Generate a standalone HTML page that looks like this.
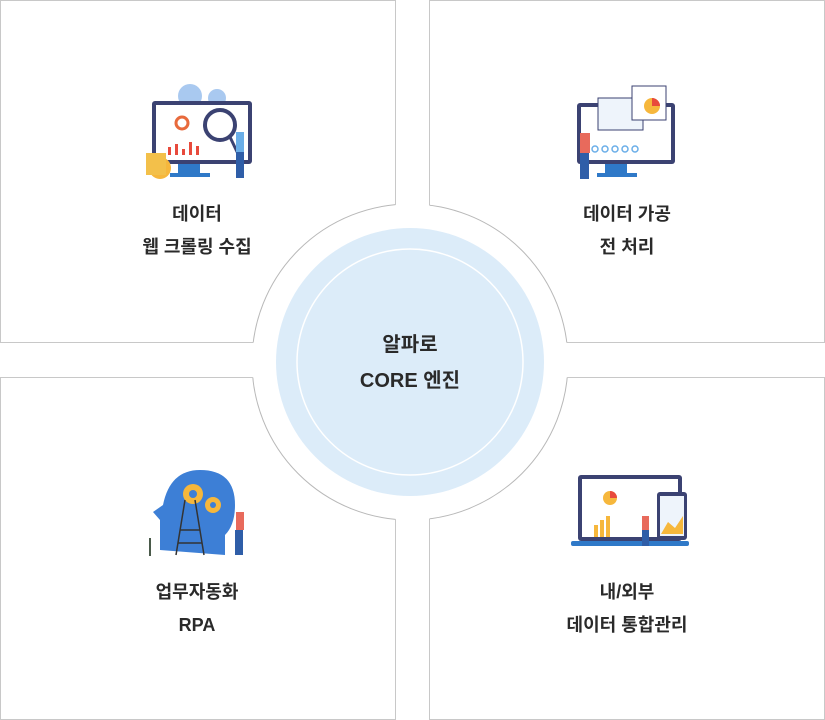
<!DOCTYPE html>
<html><head><meta charset="utf-8"><style>
body{margin:0;background:#fff;width:825px;height:720px;overflow:hidden;position:relative;font-family:"Liberation Sans","Noto Sans CJK KR",sans-serif}
.t{position:absolute;text-align:center;font-weight:bold;color:#2a2a2a;font-size:18px;line-height:33px;width:300px}
</style></head><body>
<svg width="825" height="720" style="position:absolute;left:0;top:0">
<defs><clipPath id="bx">
<rect x="0" y="0" width="395.5" height="342.5"/><rect x="429.5" y="0" width="396" height="342.5"/>
<rect x="0" y="377.5" width="395.5" height="343"/><rect x="429.5" y="377.5" width="396" height="343"/>
</clipPath></defs>
<g fill="#fff" stroke="#c8c8c8" stroke-width="1">
<rect x="0.5" y="0.5" width="395" height="342"/><rect x="429.5" y="0.5" width="395" height="342"/>
<rect x="0.5" y="377.5" width="395" height="342"/><rect x="429.5" y="377.5" width="395" height="342"/>
</g>
<circle cx="410" cy="362" r="158" fill="#fff"/>
<circle cx="410" cy="362" r="158" fill="none" stroke="#b8b8b8" clip-path="url(#bx)"/>
<circle cx="410" cy="362" r="134" fill="#dcecf9"/>
<circle cx="410" cy="362" r="113" fill="none" stroke="#fff" stroke-width="1.5"/>
<g>
<circle cx="190" cy="96" r="12" fill="#a9c9f0"/><circle cx="217" cy="98" r="9" fill="#a9c9f0"/>
<rect x="152" y="101" width="100" height="63" rx="3" fill="#3b4272"/>
<rect x="156" y="105" width="92" height="55" fill="#fff"/>
<rect x="178" y="164" width="22" height="10" fill="#2f79c8"/><rect x="170" y="173" width="40" height="4" fill="#2f79c8"/>
<circle cx="182" cy="123" r="6" fill="none" stroke="#e86a3c" stroke-width="3"/>
<g fill="#e84a3c"><rect x="168" y="147" width="3" height="8"/><rect x="175" y="144" width="3" height="11"/><rect x="182" y="149" width="3" height="6"/><rect x="189" y="142" width="3" height="13"/><rect x="196" y="146" width="3" height="9"/></g>
<circle cx="220" cy="125" r="15" fill="#fff" stroke="#3b4272" stroke-width="4"/>
<line x1="230" y1="137" x2="240" y2="158" stroke="#3b4272" stroke-width="3"/>
<rect x="236" y="132" width="8" height="20" fill="#6aaee8"/><rect x="236" y="152" width="8" height="26" fill="#2f5ea8"/>
<circle cx="160" cy="168" r="11" fill="#f6b73c"/><rect x="146" y="153" width="20" height="22" fill="#f3c04a"/>
</g>
<g>
<rect x="577" y="103" width="98" height="61" rx="3" fill="#3b4272"/>
<rect x="581" y="107" width="90" height="53" fill="#fff"/>
<rect x="605" y="164" width="22" height="10" fill="#2f79c8"/><rect x="597" y="173" width="40" height="4" fill="#2f79c8"/>
<rect x="598" y="98" width="45" height="32" fill="#eef4fb" stroke="#3b4272"/>
<rect x="632" y="86" width="34" height="34" fill="#fff" stroke="#3b4272"/>
<circle cx="652" cy="106" r="8" fill="#f6b73c"/><path d="M652 106 L652 98 A8 8 0 0 1 660 106Z" fill="#e84a3c"/>
<g fill="none" stroke="#6aaee8" stroke-width="1.5"><circle cx="595" cy="149" r="3"/><circle cx="605" cy="149" r="3"/><circle cx="615" cy="149" r="3"/><circle cx="625" cy="149" r="3"/><circle cx="635" cy="149" r="3"/></g>
<rect x="580" y="133" width="10" height="20" fill="#e86a5c"/><rect x="580" y="153" width="9" height="26" fill="#2f5ea8"/>
</g>
<g>
<path d="M160 550 L160 520 L153 512 L163 505 Q170 470 200 470 Q235 470 235 505 Q235 525 225 535 L225 555 Z" fill="#3d7fd6"/>
<circle cx="193" cy="494" r="10" fill="#f6b73c"/><circle cx="213" cy="505" r="8" fill="#f6b73c"/>
<circle cx="193" cy="494" r="4" fill="#3d7fd6"/><circle cx="213" cy="505" r="3" fill="#3d7fd6"/>
<g stroke="#333" stroke-width="1.5"><line x1="176" y1="555" x2="185" y2="500"/><line x1="204" y1="555" x2="195" y2="500"/><line x1="180" y1="530" x2="200" y2="530"/><line x1="178" y1="543" x2="202" y2="543"/></g>
<rect x="236" y="512" width="8" height="18" fill="#e86a5c"/><rect x="235" y="530" width="8" height="25" fill="#2f5ea8"/>
<path d="M150 556 L150 538" stroke="#4a5a4a" stroke-width="2"/>
</g>
<g>
<rect x="578" y="475" width="104" height="66" rx="3" fill="#3b4272"/>
<rect x="582" y="479" width="96" height="58" fill="#fff"/>
<rect x="571" y="541" width="118" height="5" rx="2" fill="#2f79c8"/>
<circle cx="610" cy="498" r="7" fill="#f6b73c"/><path d="M610 498 L610 491 A7 7 0 0 1 617 498Z" fill="#e84a3c"/>
<rect x="657" y="492" width="30" height="48" rx="3" fill="#3b4272"/><rect x="660" y="496" width="24" height="40" fill="#eef4fb"/>
<path d="M661 534 L668 522 L675 528 L683 516 L683 534Z" fill="#f6b73c"/>
<g fill="#f6b73c"><rect x="594" y="525" width="4" height="12"/><rect x="600" y="520" width="4" height="17"/><rect x="606" y="516" width="4" height="21"/></g>
<rect x="642" y="516" width="7" height="14" fill="#e86a5c"/><rect x="642" y="530" width="7" height="16" fill="#2f5ea8"/>
</g>
</svg>
<div class="t" style="left:47px;top:198px">데이터<br>웹 크롤링 수집</div>
<div class="t" style="left:477px;top:198px">데이터 가공<br>전 처리</div>
<div class="t" style="left:47px;top:576px">업무자동화<br>RPA</div>
<div class="t" style="left:477px;top:576px">내/외부<br>데이터 통합관리</div>
<div class="t" style="left:260px;top:327px;font-size:20px;line-height:36px">알파로<br>CORE 엔진</div>
</body></html>
